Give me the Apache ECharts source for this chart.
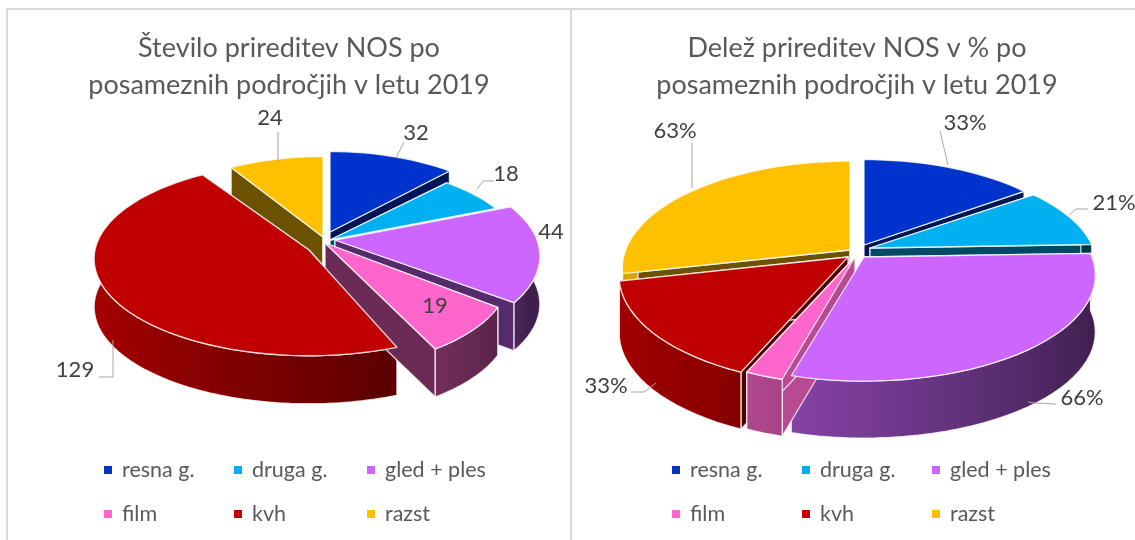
<!DOCTYPE html>
<html><head><meta charset="utf-8">
<style>html,body{margin:0;padding:0;background:#fff}#c{width:1135px;height:540px}</style>
<script src="https://cdn.jsdelivr.net/npm/echarts@6/dist/echarts.min.js"></script>
</head><body><div id="c"></div>
<script>
const categories = ['resna g.', 'druga g.', 'gled + ples', 'film', 'kvh', 'razst'];
const colors = ['#0033CC', '#00B0F0', '#CC66FF', '#FF66CC', '#C00000', '#FFC000'];
const countValues = [32, 18, 44, 19, 129, 24];
const shareValues = [33, 21, 66, 5, 33, 63];
const countLabels = ['32', '18', '44', '19', '129', '24'];
const shareLabels = ['33%', '21%', '66%', '', '33%', '63%'];

const FONT = 'Lato, "Open Sans", sans-serif';
const TEXT = '#595959';

// Layout of the two pseudo-3D pies (projection, per-slice explosion, label placement)
const leftPie = {
  id: 'L', values: countValues, labels: countLabels, rx: 222, k: 98, depth: 48,
  tips: [[330,232],[330,240],[335,240],[325,243],[309,250],[323,237]],
  shape: [
    { x: .88, y: .96, a: .168 }, { x: .86, y: .9, a: .168 }, { x: .91, y: .95, a: .168 },
    { x: .8, y: .89, a: .3 }, { x: .964, y: .98, a: .092, d0: 5 }, { x: .88, y: .96, a: .168 }
  ],
  radial: [.42, .42, .42, .42, .42, .42],
  labelAt: [[416,133],[506,174],[551,232],[435,306],[75,370],[270,118]],
  leaders: [[[404,142],[396,158]],[[494,181],[483,181],[477,189]],null,null,[[99,377],[113,377],[113,340]],[[278,132],[278,162]]]
};
const rightPie = {
  id: 'R', values: shareValues, labels: shareLabels, rx: 240, k: 103, depth: 57,
  tips: [[864,245],[870,248],[864,257],[855,257],[848,257],[850,250]],
  shape: [
    { x: .91, y: .97, a: .17 }, { x: .93, y: .96, a: .17 }, { x: .95, y: 1, a: .17 },
    { x: .95, y: 1.03, a: .17 }, { x: .94, y: 1.03, a: .17 }, { x: .935, y: 1.01, a: .17 }
  ],
  radial: [.42, .42, .42, .72, .42, .42],
  labelAt: [[965,123],[1114,203],[1082,398],[0,0],[606,386],[675,131]],
  leaders: [[[940,131],[948,165]],[[1088,209],[1076,209],[1069,215]],[[1056,404],[1035,403],[1028,402]],null,[[631,392],[644,392],[656,383]],[[692,143],[692,188]]]
};

function shade(hex, f) {
  const n = parseInt(hex.slice(1), 16);
  const c = [n >> 16, (n >> 8) & 255, n & 255].map(v => Math.round(v * f));
  return 'rgb(' + c.join(',') + ')';
}
function project(p, i, deg) {
  const t = deg * Math.PI / 180, u = Math.cos(t), sh = p.shape[i], s = 1 / (1 + sh.a * u);
  return [p.tips[i][0] + p.rx * sh.x * Math.sin(t) * s, p.tips[i][1] - p.k * sh.y * u * s];
}
function wallShade(deg) { return Math.max(0.22, 0.58 - 0.28 * Math.sin(deg * Math.PI / 180)); }
const down = (pt, d) => [pt[0], pt[1] + d];
function arcPoints(p, i, from, to) {
  const pts = [], steps = Math.max(4, Math.ceil((to - from) / 3));
  for (let j = 0; j <= steps; j++) {
    const deg = from + (to - from) * j / steps;
    pts.push({ deg, pt: project(p, i, deg) });
  }
  return pts;
}

function sliceElements(p, i) {
  const total = p.values.reduce((a, b) => a + b, 0);
  const before = p.values.slice(0, i).reduce((a, b) => a + b, 0);
  const a0 = before / total * 360 + (p.shape[i].d0 || 0), a1 = (before + p.values[i]) / total * 360;
  const color = colors[i], tip = p.tips[i];
  const arc = arcPoints(p, i, a0, a1).map(q => q.pt);
  const mid = (a0 + a1) / 2;
  const order = 10 + Math.round((1 - Math.cos(mid * Math.PI / 180)) * 20);
  const edge = { stroke: 'rgba(255,255,255,0.8)', lineWidth: 1.3, lineJoin: 'round' };
  const el = [];
  [arc[0], arc[arc.length - 1]].forEach(o => {
    el.push({ type: 'polygon', z2: order, silent: true,
      shape: { points: [tip, o, down(o, p.depth), down(tip, p.depth)] },
      style: Object.assign({ fill: shade(color, p.radial[i]) }, edge) });
  });
  // Only the part of the rim that faces the viewer is drawn
  const w0 = Math.max(a0, 78), w1 = Math.min(a1, 282);
  if (w1 > w0) {
    const rim = arcPoints(p, i, w0, w1);
    const xs = rim.map(q => q.pt[0]), minX = Math.min(...xs), maxX = Math.max(...xs);
    const stops = rim.filter((q, j) => j % 5 === 0 || j === rim.length - 1)
      .map(q => ({ offset: (q.pt[0] - minX) / (maxX - minX || 1), color: shade(color, wallShade(q.deg)) }))
      .sort((a, b) => a.offset - b.offset);
    const top = rim.map(q => q.pt);
    el.push({ type: 'polygon', z2: order + 1, silent: true,
      shape: { points: top.concat(top.slice().reverse().map(q => down(q, p.depth))) },
      style: Object.assign({ fill: new echarts.graphic.LinearGradient(0, 0, 1, 0, stops) }, edge) });
  }
  el.push({ type: 'polygon', z2: 100, shape: { points: [tip].concat(arc) }, silent: true,
    style: Object.assign({ fill: color }, edge) });
  if (p.leaders[i]) el.push({ type: 'polyline', z2: 110, shape: { points: p.leaders[i] }, silent: true,
    style: { stroke: '#a6a6a6', lineWidth: 1, fill: null } });
  if (p.labels[i]) el.push({ type: 'text', z2: 120, x: p.labelAt[i][0], y: p.labelAt[i][1], silent: true,
    style: { text: p.labels[i], fill: '#404040', font: '22px ' + FONT, align: 'center', verticalAlign: 'middle' } });
  return { type: 'group', children: el };
}

const series = [];
[leftPie, rightPie].forEach(p => {
  categories.forEach((name, i) => {
    series.push({
      type: 'custom', id: p.id + i, name, coordinateSystem: 'none',
      itemStyle: { color: colors[i] }, data: [[p.values[i]]],
      renderItem: () => sliceElements(p, i), animation: false
    });
  });
});

const legendCols = [
  { left: 99, names: [0, 3] }, { left: 229, names: [1, 4] }, { left: 362, names: [2, 5] },
  { left: 667, names: [0, 3] }, { left: 797, names: [1, 4] }, { left: 927, names: [2, 5] }
];
const legend = legendCols.map(c => ({
  orient: 'vertical', left: c.left, top: 453, itemWidth: 8, itemHeight: 8, itemGap: 20,
  icon: 'rect', selectedMode: false, data: c.names.map(n => categories[n]),
  textStyle: { color: TEXT, fontSize: 21.5, fontFamily: FONT, padding: [0, 0, 0, 5], lineHeight: 24 }
}));

const titleStyle = { color: TEXT, fontSize: 27, fontWeight: 'normal', fontFamily: FONT, lineHeight: 37 };
const rule = (x1, y1, x2, y2) => ({ type: 'line', silent: true, z: -1,
  shape: { x1, y1, x2, y2 }, style: { stroke: '#d9d9d9', lineWidth: 2 } });

const chart = echarts.init(document.getElementById('c'), null, { renderer: 'canvas' });
chart.setOption({
  backgroundColor: '#fff', animation: false,
  title: [
    { text: 'Število prireditev NOS po\nposameznih področjih v letu 2019', left: 284, top: 25, textAlign: 'center', textStyle: titleStyle },
    { text: 'Delež prireditev NOS v % po\nposameznih področjih v letu 2019', left: 852, top: 25, textAlign: 'center', textStyle: titleStyle }
  ],
  legend, series,
  graphic: [rule(7, 9, 7, 540), rule(6, 9, 1135, 9), rule(571, 9, 571, 540)]
});
</script></body></html>
